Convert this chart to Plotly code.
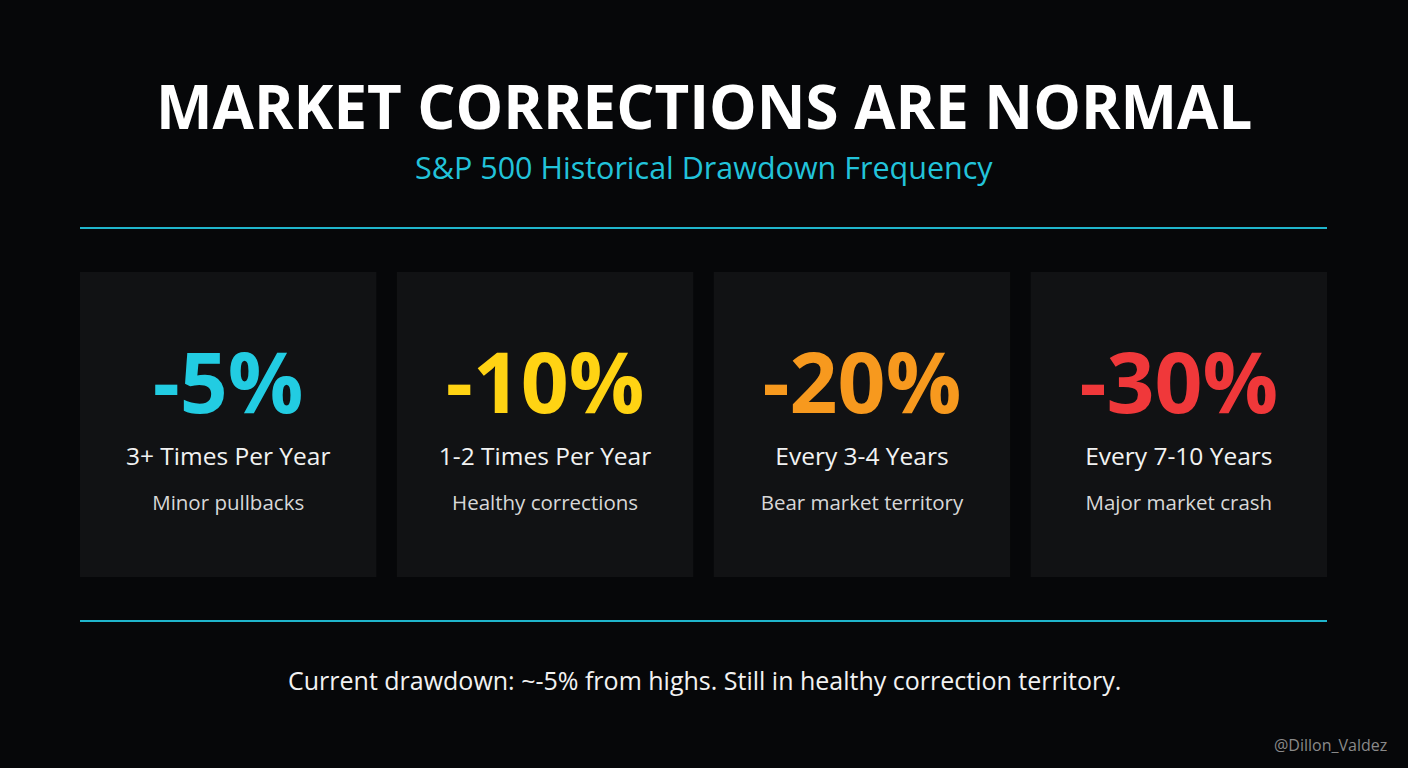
import plotly.graph_objects as go

# Card contents
drawdowns = ['-5%', '-10%', '-20%', '-30%']
frequencies = ['3+ Times Per Year', '1-2 Times Per Year', 'Every 3-4 Years', 'Every 7-10 Years']
descriptions = ['Minor pullbacks', 'Healthy corrections', 'Bear market territory', 'Major market crash']
card_colors = ['#22CCE2', '#FFD313', '#F7991E', '#F0383A']

title = 'MARKET CORRECTIONS ARE NORMAL'
subtitle = 'S&P 500 Historical Drawdown Frequency'
footer = 'Current drawdown: ~-5% from highs. Still in healthy correction territory.'
watermark = '@Dillon_Valdez'

W, H = 1408, 768
BG = '#060709'
CARD_BG = '#111214'
ACCENT = '#1FB5CC'

# card geometry in pixel space (y measured from top)
left, right = 80, 1327
gap = 20.5
card_w = (right - left - 3 * gap) / 4
card_top, card_bottom = 272, 577
centers = [left + card_w / 2 + i * (card_w + gap) for i in range(len(drawdowns))]

def py(y):
    # flip so the layout can be thought of top-down
    return H - y

FONT = 'Open Sans'

fig = go.Figure()

# big drawdown numbers
fig.add_trace(go.Scatter(
    x=centers, y=[py(392)] * len(centers),
    mode='text', text=drawdowns,
    textfont=dict(family=FONT, size=84, color=card_colors, weight=700),
    hoverinfo='skip', showlegend=False,
))
# frequency line
fig.add_trace(go.Scatter(
    x=centers, y=[py(459)] * len(centers),
    mode='text', text=frequencies,
    textfont=dict(family=FONT, size=24.5, color='#F2F2F2'),
    hoverinfo='skip', showlegend=False,
))
# description line
fig.add_trace(go.Scatter(
    x=centers, y=[py(505)] * len(centers),
    mode='text', text=descriptions,
    textfont=dict(family=FONT, size=20.5, color='#D8D8D8'),
    hoverinfo='skip', showlegend=False,
))

shapes = []
for c in centers:
    shapes.append(dict(
        type='rect', layer='below',
        x0=c - card_w / 2, x1=c + card_w / 2,
        y0=py(card_bottom), y1=py(card_top),
        fillcolor=CARD_BG, line=dict(width=0),
    ))
for yline in (228, 621):
    shapes.append(dict(
        type='line', x0=left, x1=right, y0=py(yline), y1=py(yline),
        line=dict(color=ACCENT, width=2),
    ))

annotations = [
    dict(x=W / 2, y=py(106), text=title, showarrow=False,
         font=dict(family=FONT, size=60, color='#FFFFFF', weight=700)),
    dict(x=W / 2, y=py(167), text=subtitle, showarrow=False,
         font=dict(family=FONT, size=30.5, color='#22C3DA')),
    dict(x=W / 2, y=py(680), text=footer, showarrow=False,
         font=dict(family=FONT, size=25, color='#F2F2F2')),
    dict(x=1389, y=py(745), text=watermark, showarrow=False, xanchor='right',
         font=dict(family=FONT, size=16, color='#8A8A8A')),
]

fig.update_layout(
    width=W, height=H,
    margin=dict(l=0, r=0, t=0, b=0),
    paper_bgcolor=BG, plot_bgcolor=BG,
    xaxis=dict(range=[0, W], visible=False, fixedrange=True),
    yaxis=dict(range=[0, H], visible=False, fixedrange=True),
    shapes=shapes,
    annotations=annotations,
)

# drop the browser's default body margin so the figure fills the window
fig.write_html(
    'out.html',
    config={'displayModeBar': False},
    post_script="document.body.style.margin='0';document.body.style.background='" + BG + "';",
)
